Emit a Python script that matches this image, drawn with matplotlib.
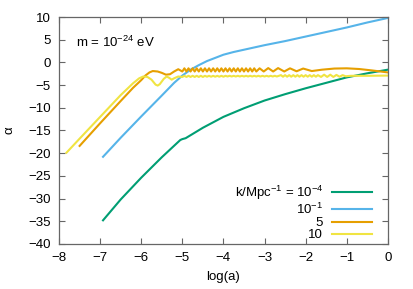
import numpy as np
import matplotlib
matplotlib.use("Agg")
import matplotlib.pyplot as plt

plt.rcParams['font.family'] = ['Liberation Sans', 'DejaVu Sans']
plt.rcParams['mathtext.default'] = 'regular'
plt.rcParams['font.size'] = 9.5

# k = 1e-4
green_x = [-6.93, -6.5, -6.0, -5.5, -5.05, -5.0, -4.92, -4.5, -4.0, -3.5, -3.0,
           -2.5, -2.0, -1.5, -1.0, -0.5, 0.0]
green_y = [-34.8, -30.2, -25.4, -20.9, -17.1, -16.9, -16.7, -14.4, -12.0, -10.1, -8.4,
           -7.0, -5.7, -4.5, -3.3, -2.4, -1.6]

# k = 1e-1
blue_x = [-6.93, -6.5, -6.0, -5.5, -5.2, -5.0, -4.8, -4.6, -4.4, -4.2, -4.0,
          -3.75, -3.5, -3.0, -2.5, -2.0, -1.5, -1.0, -0.5, 0.0]
blue_y = [-20.8, -16.6, -11.9, -7.3, -4.5, -2.9, -1.6, -0.6, 0.3, 1.0, 1.7,
          2.3, 2.8, 3.8, 4.7, 5.7, 6.7, 7.7, 8.8, 9.8]

# k = 5
orange_x = [-7.5, -7.0, -6.5, -6.2, -6.0, -5.9, -5.8, -5.72, -5.6, -5.5, -5.4, -5.3, -5.2, -5.1,
            -5.00, -4.95, -4.90, -4.85, -4.80, -4.75, -4.70, -4.65, -4.60, -4.55,
            -4.50, -4.45, -4.40, -4.35, -4.30, -4.25, -4.20, -4.15, -4.10, -4.05,
            -4.00, -3.95, -3.90, -3.85, -3.80, -3.75, -3.70, -3.65, -3.60, -3.55,
            -3.50, -3.45, -3.40, -3.35, -3.30, -3.25, -3.20,
            -3.12, -3.02, -2.91, -2.79, -2.67, -2.52, -2.38, -2.22, -2.06, -1.85,
            -1.6, -1.3, -1.0, -0.7, -0.4, 0.0]
orange_y = [-18.4, -13.4, -8.5, -5.6, -3.9, -2.9, -2.2, -1.9, -2.0, -2.3, -2.7, -2.6, -2.0, -1.5,
            -2.0, -1.3, -2.0, -1.3, -2.0, -1.3, -2.0, -1.3, -2.0, -1.3,
            -2.0, -1.3, -2.0, -1.3, -2.0, -1.3, -2.0, -1.3, -2.0, -1.3,
            -2.0, -1.3, -2.0, -1.3, -2.0, -1.3, -2.0, -1.3, -2.0, -1.3,
            -2.0, -1.3, -2.0, -1.3, -2.0, -1.3, -2.0,
            -1.3, -2.0, -1.25, -2.0, -1.25, -2.0, -1.3, -1.95, -1.35, -1.9,
            -1.6, -1.35, -1.3, -1.45, -1.75, -2.2]

# k = 10
yellow_x = [-7.82, -7.5, -7.0, -6.5, -6.2, -6.05, -5.95, -5.85, -5.75, -5.65, -5.6, -5.55,
            -5.45, -5.38, -5.32, -5.26, -5.2, -5.1, -5.0,
            -4.95, -4.90, -4.85, -4.80, -4.75, -4.70, -4.65, -4.60, -4.55, -4.50,
            -4.45, -4.40, -4.35, -4.30, -4.25, -4.20, -4.15, -4.10, -4.05, -4.00,
            -3.95, -3.90, -3.85, -3.80, -3.75, -3.70, -3.65, -3.60, -3.55, -3.50,
            -3.45, -3.40, -3.35, -3.30, -3.25, -3.20, -3.15, -3.10, -3.05, -3.00,
            -2.95, -2.90, -2.85, -2.80, -2.75, -2.70, -2.65,
            -2.60, -2.55, -2.50, -2.45, -2.40, -2.35, -2.30, -2.25, -2.20, -2.15,
            -2.10, -2.05, -2.00, -1.95, -1.90, -1.85, -1.80, -1.75, -1.70,
            -1.625, -1.55, -1.475, -1.40, -1.325, -1.25, -1.175, -1.10, -1.025,
            -0.9, -0.5, 0.0]
yellow_y = [-19.9, -16.8, -12.0, -7.2, -4.6, -3.5, -3.1, -3.2, -3.8, -4.9, -5.1, -4.8,
            -3.6, -3.1, -3.4, -3.8, -3.5, -3.1, -3.2,
            -2.95, -3.2, -2.95, -3.2, -2.95, -3.2, -2.95, -3.2, -2.95, -3.2,
            -2.95, -3.15, -2.95, -3.15, -2.95, -3.15, -2.95, -3.15, -2.95, -3.15,
            -2.95, -3.1, -2.95, -3.1, -2.95, -3.1, -2.95, -3.1, -2.95, -3.1,
            -2.95, -3.1, -2.95, -3.1, -2.95, -3.1, -2.95, -3.1, -2.95, -3.1,
            -2.95, -3.1, -2.95, -3.1, -2.95, -3.1, -2.95,
            -2.8, -3.15, -2.8, -3.15, -2.8, -3.15, -2.8, -3.15, -2.8, -3.15,
            -2.8, -3.15, -2.8, -3.15, -2.8, -3.15, -2.8, -3.15, -2.8,
            -3.2, -2.7, -3.2, -2.7, -3.2, -2.75, -3.15, -2.8, -3.05,
            -2.95, -2.95, -2.9]

labels = [r"k/Mpc$^{-1}$ = 10$^{-4}$", r"10$^{-1}$", "5", "10"]
colors = ["#009e73", "#56b4e9", "#e69f00", "#f0e442"]

fig = plt.figure(figsize=(4.13, 2.89), dpi=100)
ax = fig.add_axes([0.143, 0.156, 0.796, 0.785])

series = [(green_x, green_y), (blue_x, blue_y), (orange_x, orange_y), (yellow_x, yellow_y)]
for (xs, ys), c, lab in zip(series, colors, labels):
    ax.plot(xs, ys, color=c, lw=1.5, label=lab)

ax.set_xlim(-8, 0)
ax.set_ylim(-40, 10)
ax.set_xticks(np.arange(-8, 1, 1))
ax.set_yticks(np.arange(-40, 11, 5))
ax.tick_params(direction='in', top=True, right=True, length=4, width=0.8,
               color='#666666', labelsize=9.5, pad=6)
for s in ax.spines.values():
    s.set_color('#666666')
    s.set_linewidth(0.9)

ax.set_xlabel("log(a)", fontsize=9.5, labelpad=5)
ax.set_ylabel(u"\u03b1", fontsize=9.5, labelpad=9)

ax.text(0.052, 0.89, r"m = 10$^{-24}$ eV", transform=ax.transAxes,
        fontsize=9.5, va='center', ha='left')

ax.legend(loc='lower right', bbox_to_anchor=(0.98, -0.03), frameon=False, markerfirst=False,
          handlelength=3.0, handletextpad=0.7, labelspacing=0.0, fontsize=9.5,
          borderpad=0.2)

fig.savefig("out.png", dpi=100)
